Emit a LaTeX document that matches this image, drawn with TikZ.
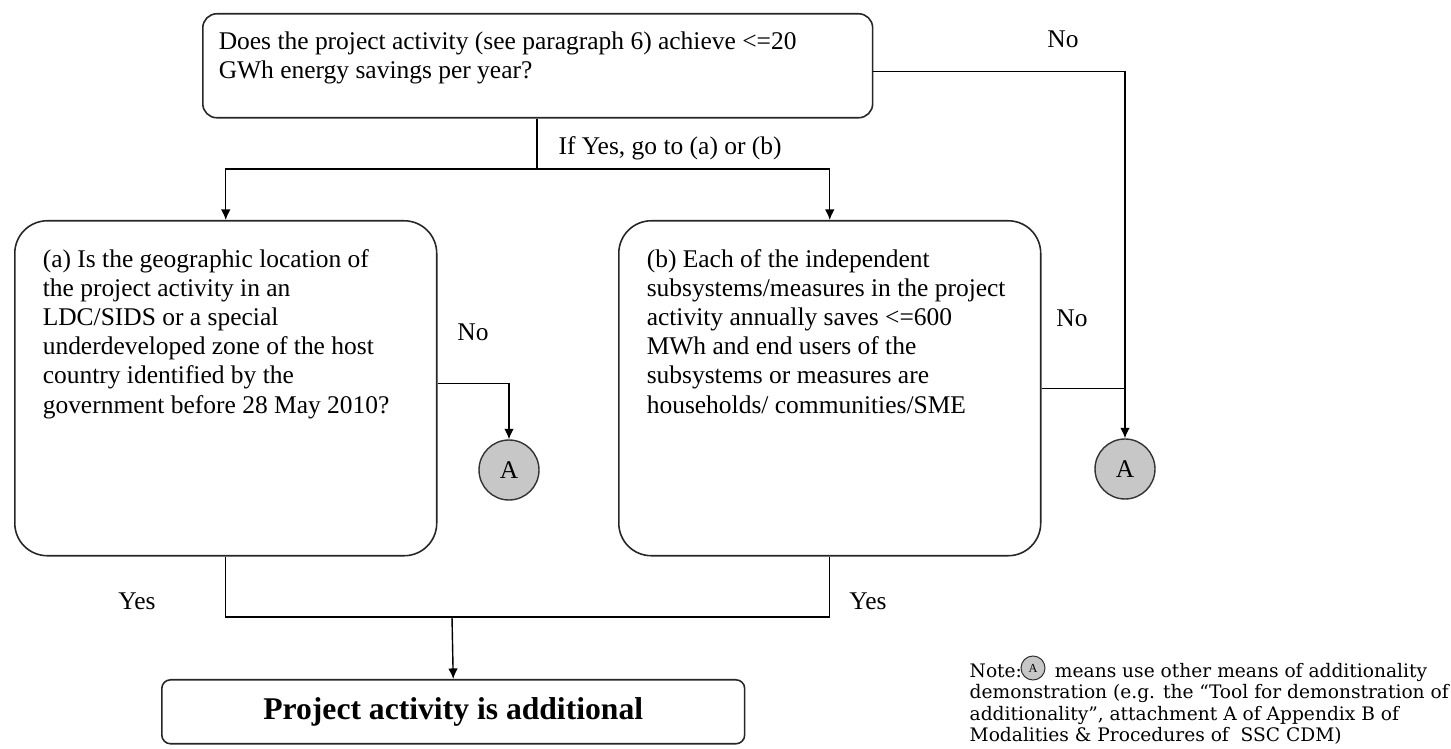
\documentclass[tikz,border=0pt]{standalone}
\usepackage{fontspec}
\setmainfont{Liberation Serif}
\newfontfamily\notefont{DejaVu Serif}
\usetikzlibrary{arrows.meta,positioning,calc}

\begin{document}
\begin{tikzpicture}[x=0.02cm,y=-0.02cm,>={Latex[length=6pt,width=5.5pt]},line width=0.8pt,
  qbox/.style={draw=black!85,line width=0.9pt,anchor=north west,inner sep=0pt,
    font=\fontsize{14.5pt}{16.6pt}\selectfont},
  lbl/.style={font=\fontsize{14.5pt}{16.6pt}\selectfont},
  acirc/.style={circle,draw=black!80,fill=black!22,line width=0.8pt,minimum size=1.2cm,
    inner sep=0pt,font=\fontsize{14.5pt}{16.6pt}\selectfont},
  minicirc/.style={circle,draw=black!80,fill=black!22,line width=0.6pt,minimum size=0.48cm,
    inner sep=0pt,font=\fontsize{7pt}{8pt}\selectfont},
  notetext/.style={anchor=north west,align=left,inner sep=0pt,
    font=\notefont\fontsize{10.6pt}{12pt}\selectfont}]
\useasboundingbox (0,0) rectangle (1451,749);
% ---- question boxes ----
\node[qbox,rounded corners=8pt,inner xsep=0.32cm,inner ysep=0.36cm] (top) at (202,13)
  {\parbox[t][1.36cm][t]{12.76cm}{Does the project activity (see paragraph 6) achieve <=20\\
   GWh energy savings per year?}};
\node[qbox,rounded corners=0.65cm,inner xsep=0.56cm,inner ysep=0.57cm] (qa) at (14,220)
  {\parbox[t][5.56cm][t]{7.32cm}{(a) Is the geographic location of\\
   the project activity in an\\
   LDC/SIDS or a special\\
   underdeveloped zone of the host\\
   country identified by the\\
   government before 28 May 2010?}};
\node[qbox,rounded corners=0.65cm,inner xsep=0.56cm,inner ysep=0.57cm] (qb) at (618,220)
  {\parbox[t][5.56cm][t]{7.32cm}{(b) Each of the independent\\
   subsystems/measures in the project\\
   activity annually saves <=600\\
   MWh and end users of the\\
   subsystems or measures are\\
   households/ communities/SME}};
% ---- result ----
\node[draw=black!85,line width=0.9pt,rounded corners=5pt,anchor=north west,
  minimum width=11.66cm,minimum height=1.28cm,
  font=\fontsize{18pt}{20pt}\selectfont\bfseries] (res) at (161,679) {Project activity is additional};
% ---- connector circles ----
\node[acirc] (ca1) at (509,470) {A};
\node[acirc] (ca2) at (1125,469) {A};
% ---- connectors ----
\coordinate (split) at (537,169);
\coordinate (join) at (452,617);
\draw (top.south -| split) -- (split);
\draw[->] (split) -| (qa.north);
\draw[->] (split) -| (qb.north);
\draw[->] ($(qa.east)+(0,-5)$) -| (ca1.north);
\draw[->] ($(top.east)+(0,6)$) -| (ca2.north);
\draw (qb.east) -- (qb.east -| ca2);
\draw (qa.south) |- (join) -| (qb.south);
\draw[->] (join) -- (res.north);
% ---- labels ----
\node[lbl,anchor=base west] (lsplit) at (552,155) {If Yes, go to (a) or (b)};
\node[lbl] (lno1) at (1063,39) {No};
\node[lbl] (lno2) at (473,332) {No};
\node[lbl] (lno3) at (1072,318) {No};
\node[lbl] (lyes1) at (137,601) {Yes};
\node[lbl] (lyes2) at (868,601) {Yes};
% ---- note ----
\node[notetext] (note) at (969,663) {Note:\hspace{0.66cm}means use other means of additionality\\
  demonstration (e.g. the “Tool for demonstration of\\
  additionality”, attachment A of Appendix B of\\
  Modalities \& Procedures of\ \ SSC CDM)};
\node[minicirc] (ca3) at (1033,668) {A};
\end{tikzpicture}
\end{document}
